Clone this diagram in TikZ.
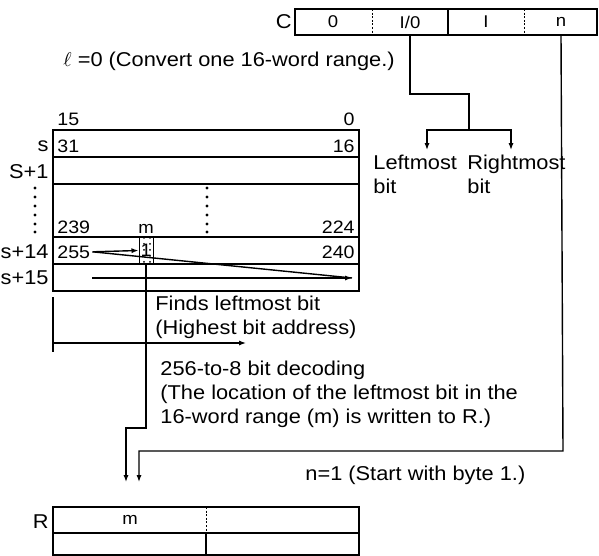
\documentclass[tikz,border=0pt]{standalone}
\usepackage{fontspec}
\setmainfont{Liberation Sans}[FakeStretch=1.09]
\usepackage{tikz}
\usetikzlibrary{positioning, arrows.meta, patterns}
\tikzset{
  reg/.style={draw=black, line width=0.7pt},
  sep/.style={draw=black, line width=0.5pt, dash pattern=on 1pt off 0.8pt},
  wire/.style={line width=0.7pt},
  arrow/.style={line width=0.7pt, -{Latex[length=3.5pt, width=2.6pt]}},
  txt/.style={inner sep=0pt, font=\fontsize{10}{12}\selectfont},
  num/.style={inner sep=0pt, font=\fontsize{9}{11}\selectfont},
  small/.style={inner sep=0pt, font=\fontsize{8.5}{10}\selectfont},
  note/.style={inner sep=0pt, align=left, font=\fontsize{10}{12}\selectfont},
  mcell/.style={draw=black, line width=0.5pt, pattern=dots, inner sep=0pt, minimum width=7pt, minimum height=13.5pt, font=\fontsize{9}{11}\selectfont},
}

\begin{document}
\begin{tikzpicture}[x=0.5pt, y=-0.5pt]
          \useasboundingbox (0,0) rectangle (599,556);

          \draw[reg] (295,9) rectangle (597,35);
          \draw[sep] (372,9) -- (372,35);
          \draw[reg] (448,9) -- (448,35);
          \draw[sep] (524,9) -- (524,35);
          \node[txt, anchor=base east] (clab) at (292,29) {C};
          \node[small] (c0) at (333,22) {0};
          \node[small] (cio) at (410,22) {I/0};
          \node[small] (ci) at (486,22) {I};
          \node[small] (cn) at (561,22) {n};

          \node[note, anchor=base west] (ell) at (63,67) {$\ell$ =0 (Convert one 16-word range.)};

          \coordinate (cioout) at (410,35);
          \coordinate (split) at (469,130);
          \coordinate (lin) at (427,150);
          \coordinate (rin) at (511,150);
          \node[note, anchor=north west] (lmost) at (373,155) {Leftmost\\bit};
          \node[note, anchor=north west] (rmost) at (467,155) {Rightmost\\bit};

          \draw[reg] (53,130) rectangle (359,291);
          \foreach \y in {157,184,237,264} \draw[reg] (53,\y) -- (359,\y);
          \foreach \y in {188,197,206,215,224,232} {
            \fill (35,\y) circle[radius=0.8pt];
            \fill (207,\y) circle[radius=0.8pt];
          }

          \node[num, anchor=base west] (n15) at (57,126) {15};
          \node[num, anchor=base east] (n0) at (355,126) {0};
          \node[num, anchor=base west] (n31) at (57,152) {31};
          \node[num, anchor=base east] (n16) at (355,152) {16};
          \node[num, anchor=base west] (n239) at (57,233) {239};
          \node[num, anchor=base east] (n224) at (355,233) {224};
          \node[small, anchor=base] (mtop) at (146,233) {m};
          \node[num, anchor=base west] (n255) at (57,258) {255};
          \node[num, anchor=base east] (n240) at (355,258) {240};

          \node[txt, anchor=base east] (ls) at (49,151) {s};
          \node[txt, anchor=base east] (ls1) at (49,178) {S+1};
          \node[txt, anchor=base east] (ls14) at (49,258) {s+14};
          \node[txt, anchor=base east] (ls15) at (49,284) {s+15};

          \node[mcell] (mc) at (146,250.5) {1};
          \coordinate (scanstart) at (92,278);
          \coordinate (scanend) at (352,278);
          \coordinate (brtop) at (53,297);
          \coordinate (brbot) at (53,352);
          \coordinate (scanto) at (246,343);

          \node[note, anchor=north west] (finds) at (155,296) {Finds leftmost bit\\(Highest bit address)};
          \node[note, anchor=north west] (decode) at (160,361) {256-to-8 bit decoding\\(The location of the leftmost bit in the\\16-word range (m) is written to R.)};
          \node[note, anchor=base west] (start) at (305,480) {n=1 (Start with byte 1.)};

          \coordinate (rin1) at (126,482);
          \coordinate (rin2) at (139,482);
          \draw[reg] (53,507) rectangle (359,555);
          \draw[reg] (53,533) -- (359,533);
          \draw[sep] (206,507) -- (206,533);
          \draw[reg] (206,533) -- (206,555);
          \node[txt, anchor=base east] (rlab) at (49,528) {R};
          \node[small] (rm) at (130,520) {m};

          \draw[wire] (cioout) |- (469,94) -- (split);
          \draw[arrow] (split) -| (lin);
          \draw[arrow] (split) -| (rin);
          \draw[arrow] ([xshift=1pt]n255.east) -- (mc.west);
          \draw[wire] ([xshift=1pt]n255.east) -- (scanend);
          \draw[arrow] (scanstart) -- (scanend);
          \draw[wire] (brtop) -- (brbot);
          \draw[arrow] (brtop |- scanto) -- (scanto);
          \draw[arrow] (mc.south) -- (146,428) -- (126,428) -- (rin1);
          \draw[arrow] (cn |- cioout) -- (563,451) -- (139,451) -- (rin2);
        \end{tikzpicture}
\end{document}
